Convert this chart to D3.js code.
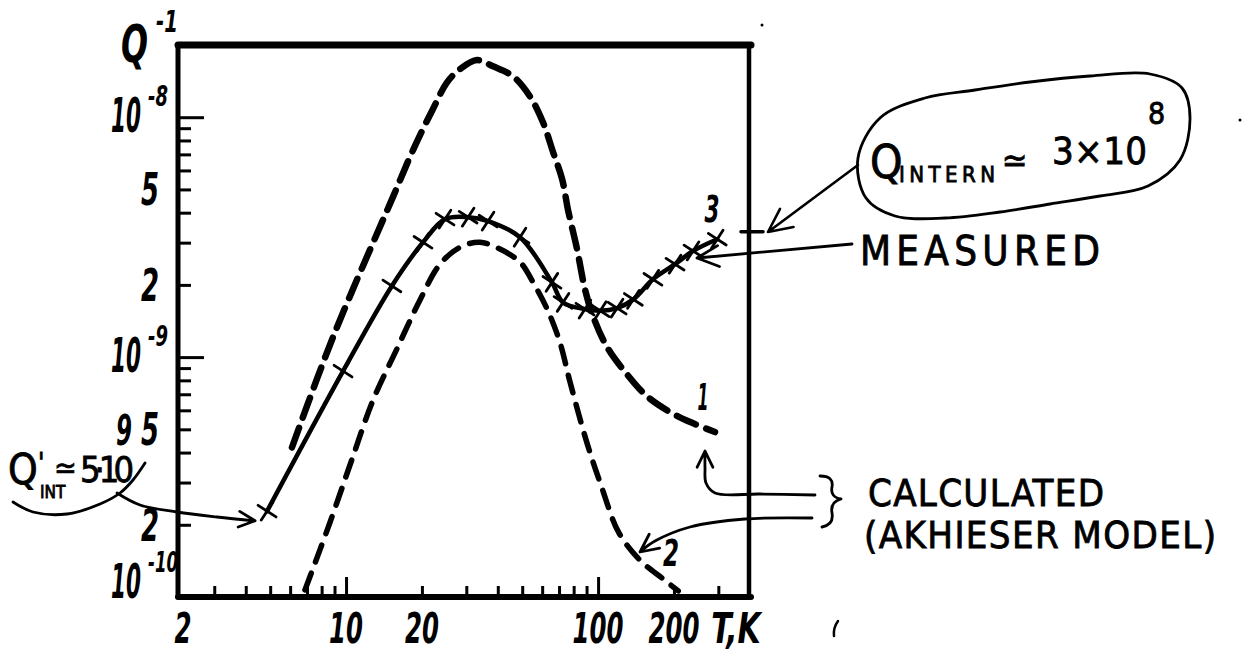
<!DOCTYPE html>
<html>
<head>
<meta charset="utf-8">
<script src="https://cdn.jsdelivr.net/npm/d3@7"></script>
<style>
body { margin: 0; background: #fff; }
.lbl { font-family: "Liberation Sans Narrow", "DejaVu Sans Condensed", sans-serif; font-style: italic; font-weight: bold; fill: #000; }
.hand { font-family: "DejaVu Sans Condensed", "DejaVu Sans", sans-serif; fill: #000; stroke: #000; stroke-width: 0.8; }
.ink { fill: none; stroke: #000; stroke-linecap: round; stroke-linejoin: round; }
</style>
</head>
<body>
<div id="container"></div>
<script>
var width = 1256;
var height = 653;

// curve 1 : calculated (upper dashed)
var calc1T = [6.1, 8.9, 15.4, 18.5, 22.1, 25.2, 28.3, 33.1, 38.3, 46, 53.7, 60.5, 66.3, 72, 76, 82.5, 88.7, 95.5, 108.6, 130, 156, 193, 232, 291];
var calc1Q = [4.2e-10, 1.22e-9, 4.69e-9, 7.35e-9, 1.08e-8, 1.40e-8, 1.585e-8, 1.73e-8, 1.63e-8, 1.48e-8, 1.22e-8, 9.5e-9, 7.15e-9, 5.52e-9, 4.1e-9, 2.82e-9, 1.92e-9, 1.48e-9, 1.10e-9, 8.5e-10, 6.88e-10, 5.9e-10, 5.36e-10, 4.87e-10];

// curve 2 : calculated (lower dashed)
var calc2T = [6.87, 8.64, 10.5, 12.8, 15.9, 19.7, 23.6, 28.3, 34, 40.8, 49, 55.2, 62.8, 70.6, 77.4, 90.4, 103, 121, 148, 181, 208];
var calc2Q = [1.07e-10, 2.05e-10, 3.69e-10, 6.62e-10, 1.08e-9, 1.74e-9, 2.44e-9, 2.87e-9, 3.01e-9, 2.82e-9, 2.49e-9, 2.05e-9, 1.585e-9, 1.15e-9, 7.87e-10, 4.38e-10, 2.9e-10, 1.85e-10, 1.41e-10, 1.19e-10, 1.06e-10];

// curve 3 : measured points
var measT = [4.86, 9.73, 15.2, 20.2, 24.7, 30.5, 36.6, 49, 65.6, 72.6, 88.7, 102, 119, 138, 165, 202, 238, 297];
var measQ = [2.28e-10, 8.74e-10, 1.98e-9, 3.01e-9, 3.76e-9, 3.83e-9, 3.69e-9, 3.16e-9, 2.05e-9, 1.69e-9, 1.585e-9, 1.56e-9, 1.6e-9, 1.74e-9, 2.11e-9, 2.44e-9, 2.77e-9, 3.1e-9];

var xMajor = [10, 100];
var xMinor = [3, 4, 5, 6, 7, 8, 9, 20, 30, 40, 50, 60, 70, 80, 90, 200, 300];
var xLabels = [2, 10, 20, 100, 200];
var yMajor = [1e-9, 1e-8];
var yMinor = [2e-10, 3e-10, 4e-10, 5e-10, 6e-10, 7e-10, 8e-10, 9e-10, 2e-9, 3e-9, 4e-9, 5e-9, 6e-9, 7e-9, 8e-9, 9e-9];
var yDecades = [{v: 1e-8, e: "-8"}, {v: 1e-9, e: "-9"}, {v: 1e-10, e: "-10"}];
var yDigits = [{v: 5e-9, t: "5"}, {v: 2e-9, t: "2"}, {v: 5e-10, t: "5"}, {v: 2e-10, t: "2"}];

var qIntern = 3e8;   // Q_INTERN ~ 3x10^8
var qInt = 5e9;      // Q'_INT ~ 5.10^9

var x = d3.scaleLog().domain([2.154, 397]).range([178, 749]);
var y = d3.scaleLog().domain([1e-10, 2e-8]).range([597, 45]);

var svg = d3.select("#container")
  .append("svg")
  .attr("width", width)
  .attr("height", height);

svg.append("rect").attr("width", width).attr("height", height).attr("fill", "#fff");

// narrow type: scale each label horizontally to a width per character
function fit(sel, perChar) {
  sel.each(function() {
    var t = d3.select(this);
    var n = this.textContent.length;
    var k = n * perChar / this.getComputedTextLength();
    var tx = +t.attr("x"), ty = +t.attr("y");
    t.attr("x", 0).attr("y", 0)
      .attr("transform", "translate(" + tx + "," + ty + ") scale(" + k + ",1)");
  });
  return sel;
}

// ticks (pointing inwards)
function ticks(g) { g.select(".domain").remove(); g.selectAll("line").attr("stroke-width", 3); }
svg.append("g").attr("transform", "translate(0,597)")
  .call(d3.axisBottom(x).tickValues(xMinor).tickSize(-11).tickFormat("")).call(ticks);
svg.append("g").attr("transform", "translate(0,597)")
  .call(d3.axisBottom(x).tickValues(xMajor).tickSize(-20).tickFormat("")).call(ticks);
svg.append("g").attr("transform", "translate(178,0)")
  .call(d3.axisLeft(y).tickValues(yMinor).tickSize(-13).tickFormat("")).call(ticks);
svg.append("g").attr("transform", "translate(178,0)")
  .call(d3.axisLeft(y).tickValues(yMajor).tickSize(-26).tickFormat("")).call(ticks);

// frame
var x0 = x.range()[0], x1 = x.range()[1], y0 = y.range()[1], y1 = y.range()[0];
svg.append("line").attr("class", "ink").attr("x1", x0).attr("x2", x1 + 2).attr("y1", y0).attr("y2", y0).attr("stroke-width", 7);
svg.append("line").attr("class", "ink").attr("x1", x0).attr("x2", x0).attr("y1", y0).attr("y2", y1).attr("stroke-width", 5);
svg.append("line").attr("class", "ink").attr("x1", x0).attr("x2", x1 + 2).attr("y1", y1).attr("y2", y1).attr("stroke-width", 6);
svg.append("line").attr("class", "ink").attr("x1", x1).attr("x2", x1).attr("y1", y0).attr("y2", y1).attr("stroke-width", 4.5);

// Q_INTERN tick on the right edge
svg.append("line").attr("class", "ink").attr("x1", x1 - 8).attr("x2", x1 + 14)
  .attr("y1", y(1 / qIntern)).attr("y2", y(1 / qIntern)).attr("stroke-width", 3.5);

// tick labels
svg.selectAll(".xl").data(xLabels).enter().append("text")
  .attr("class", "lbl").attr("x", function(d) { return Math.max(x(d), x0 + 5); }).attr("y", 643)
  .attr("text-anchor", "middle").attr("font-size", 42).text(function(d) { return d; })
  .call(fit, 17);
svg.append("text").attr("class", "lbl").attr("x", 736).attr("y", 643).attr("text-anchor", "middle")
  .attr("font-size", 42).text("T,K").call(fit, 16.5);

yDecades.forEach(function(d) {
  var b = Math.min(y(d.v) + 15, 598);
  svg.append("text").attr("class", "lbl").attr("x", 141).attr("y", b).attr("text-anchor", "end")
    .attr("font-size", 48).text("10").call(fit, 15);
  svg.append("text").attr("class", "lbl").attr("x", 148).attr("y", b - 26).attr("font-size", 28).text(d.e)
    .call(fit, 10);
});
svg.selectAll(".yd").data(yDigits).enter().append("text")
  .attr("class", "lbl").attr("x", 159).attr("y", function(d) { return y(d.v) + 16; })
  .attr("text-anchor", "end").attr("font-size", 44).text(function(d) { return d.t; })
  .call(fit, 18);
svg.append("text").attr("class", "lbl").attr("x", 121).attr("y", 62).attr("font-size", 52).text("Q").call(fit, 27);
svg.append("text").attr("class", "lbl").attr("x", 156).attr("y", 32).attr("font-size", 30).text("-1").call(fit, 11);

// curves
var line = d3.line()
  .x(function(d) { return x(d[0]); })
  .y(function(d) { return y(d[1]); })
  .curve(d3.curveCatmullRom.alpha(0.5));

svg.append("path").attr("class", "ink")
  .attr("d", line(d3.zip(calc1T, calc1Q)))
  .attr("stroke-width", 6.5).attr("stroke-dasharray", "21,11");
svg.append("path").attr("class", "ink")
  .attr("d", line(d3.zip(calc2T, calc2Q)))
  .attr("stroke-width", 5.5).attr("stroke-dasharray", "18,12");
svg.append("path").attr("class", "ink")
  .attr("d", line(d3.zip(measT, measQ)))
  .attr("stroke-width", 4.5);
svg.selectAll(".mk").data(d3.zip(measT, measQ)).enter().append("path")
  .attr("class", "ink").attr("stroke-width", 2.8)
  .attr("transform", function(d) { return "translate(" + x(d[0]) + "," + y(d[1]) + ") rotate(-12)"; })
  .attr("d", d3.symbol(d3.symbolTimes, 150));

// curve numbers
svg.append("text").attr("class", "lbl").attr("x", 712).attr("y", 222).attr("text-anchor", "middle").attr("font-size", 38).text("3").call(fit, 15);
svg.append("text").attr("class", "lbl").attr("x", 703).attr("y", 410).attr("text-anchor", "middle").attr("font-size", 38).text("1").call(fit, 11);
svg.append("text").attr("class", "lbl").attr("x", 671).attr("y", 566).attr("text-anchor", "middle").attr("font-size", 38).text("2").call(fit, 16);

// hand annotations
function arrowHead(tip, from, len) {
  var a = Math.atan2(from[1] - tip[1], from[0] - tip[0]);
  var p1 = [tip[0] + len * Math.cos(a + 0.45), tip[1] + len * Math.sin(a + 0.45)];
  var p2 = [tip[0] + len * Math.cos(a - 0.45), tip[1] + len * Math.sin(a - 0.45)];
  return "M" + p1 + "L" + tip + "L" + p2;
}
var smooth = d3.line().curve(d3.curveCatmullRom.alpha(0.5));

// balloon with Q_INTERN
var balloon = [[858, 158], [880, 118], [925, 98], [975, 90], [1030, 82], [1090, 76], [1150, 74], [1182, 88], [1190, 118],
  [1180, 160], [1148, 186], [1100, 196], [1050, 204], [1000, 212], [945, 218], [895, 216], [866, 198]];
svg.append("path").attr("class", "ink").attr("stroke-width", 2.8)
  .attr("d", d3.line().curve(d3.curveCatmullRomClosed)(balloon));
var t1 = [768, 232], f1 = [858, 165];
svg.append("path").attr("class", "ink").attr("stroke-width", 2.6).attr("d", "M" + f1 + "L" + t1 + arrowHead(t1, f1, 26));
svg.append("text").attr("class", "hand").attr("x", 870).attr("y", 178).attr("font-size", 46).text("Q");
svg.append("text").attr("class", "hand").attr("x", 899).attr("y", 182).attr("font-size", 22).attr("textLength", 96).text("INTERN");
svg.append("text").attr("class", "hand").attr("x", 1002).attr("y", 172).attr("font-size", 34).text("\u2243");
svg.append("text").attr("class", "hand").attr("x", 1052).attr("y", 164).attr("font-size", 38).attr("textLength", 95).text("3\u00d710");
svg.append("text").attr("class", "hand").attr("x", 1148).attr("y", 124).attr("font-size", 30).text("8");

// MEASURED
var t2 = [697, 258], f2 = [852, 244];
svg.append("path").attr("class", "ink").attr("stroke-width", 2.8).attr("d", "M" + f2 + "L" + t2 + arrowHead(t2, f2, 24));
svg.append("text").attr("class", "hand").attr("x", 860).attr("y", 265).attr("font-size", 40).attr("textLength", 240).text("MEASURED");

// CALCULATED
var up = [[815, 495], [760, 494], [715, 493], [706, 483], [705, 468], [705, 453]];
svg.append("path").attr("class", "ink").attr("stroke-width", 2.8).attr("d", smooth(up) + arrowHead([705, 451], [705, 470], 18));
var low = [[812, 518], [745, 519], [690, 527], [655, 541], [641, 551]];
svg.append("path").attr("class", "ink").attr("stroke-width", 2.8).attr("d", smooth(low) + arrowHead([640, 552], [656, 540], 20));
svg.append("path").attr("class", "ink").attr("stroke-width", 2.8)
  .attr("d", "M820,476 Q834,476 832,487 Q830,497 841,499 Q830,502 832,513 Q834,525 822,527");
svg.append("text").attr("class", "hand").attr("x", 868).attr("y", 506).attr("font-size", 38).attr("textLength", 236).text("CALCULATED");
svg.append("text").attr("class", "hand").attr("x", 864).attr("y", 548).attr("font-size", 38).attr("textLength", 352).text("(AKHIESER MODEL)");

// Q'_INT
var swoosh = [[13, 502], [33, 512], [67, 514], [100, 504], [120, 493], [133, 480], [145, 463]];
svg.append("path").attr("class", "ink").attr("stroke-width", 2.8).attr("d", smooth(swoosh));
var tip = [x(measT[0]) - 12, y(1 / qInt) - 4];
var arr = [[117, 493], [140, 505], [177, 512], [217, 517], tip];
svg.append("path").attr("class", "ink").attr("stroke-width", 2.8).attr("d", smooth(arr) + arrowHead(tip, [217, 517], 18));
svg.append("text").attr("class", "hand").attr("x", 8).attr("y", 484).attr("font-size", 42).text("Q");
svg.append("text").attr("class", "hand").attr("x", 38).attr("y", 472).attr("font-size", 26).text("'");
svg.append("text").attr("class", "hand").attr("x", 40).attr("y", 498).attr("font-size", 17).text("INT");
svg.append("text").attr("class", "hand").attr("x", 54).attr("y", 478).attr("font-size", 30).text("\u2243");
svg.append("text").attr("class", "hand").attr("x", 80).attr("y", 482).attr("font-size", 36).attr("textLength", 54).text("5\u00b710");
svg.append("text").attr("class", "lbl").attr("x", 116).attr("y", 445).attr("font-size", 42).text("9").call(fit, 16);

// stray marks
svg.append("circle").attr("cx", 762).attr("cy", 25).attr("r", 1.5);
svg.append("circle").attr("cx", 1240).attr("cy", 120).attr("r", 1.5);
svg.append("path").attr("class", "ink").attr("stroke-width", 2.5).attr("d", "M838,621 Q833,628 834,636");
</script>
</body>
</html>
